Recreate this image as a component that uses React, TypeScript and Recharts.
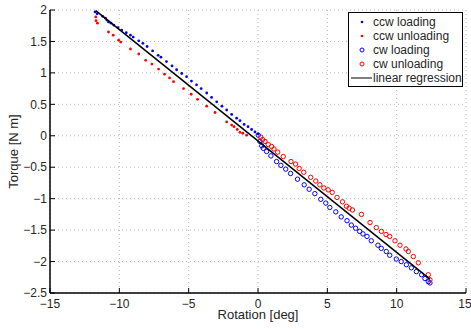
import React from "react";
import {
  ScatterChart,
  Scatter,
  XAxis,
  YAxis,
  CartesianGrid,
  Label,
} from "recharts";

// values: [rotation deg, torque N m]
const ccwLoading = [
  [-11.75, 1.97], [-11.6, 1.94], [-11.2, 1.9], [-11.0, 1.87], [-10.9, 1.84],
  [-10.78, 1.81], [-10.6, 1.79], [-10.4, 1.76], [-10.1, 1.72], [-9.83, 1.68],
  [-9.5, 1.64], [-9.2, 1.6], [-9.0, 1.57], [-8.6, 1.51], [-8.3, 1.47],
  [-8.0, 1.42], [-7.6, 1.35], [-7.2, 1.28], [-7.0, 1.25], [-6.6, 1.18],
  [-6.2, 1.11], [-5.87, 1.05], [-5.5, 0.99], [-5.15, 0.94], [-4.8, 0.87],
  [-4.43, 0.81], [-4.1, 0.75], [-3.7, 0.68], [-3.35, 0.61], [-2.98, 0.54],
  [-2.6, 0.47], [-2.26, 0.41], [-1.9, 0.34], [-1.54, 0.28], [-1.3, 0.24],
  [-1.0, 0.18], [-0.72, 0.145], [-0.46, 0.1], [-0.22, 0.06], [0.0, 0.03],
];

const ccwUnloading = [
  [-11.7, 1.89], [-11.68, 1.83], [-11.58, 1.79], [-10.78, 1.65], [-10.44, 1.6],
  [-10.05, 1.52], [-9.9, 1.49], [-9.2, 1.38], [-8.6, 1.3], [-8.1, 1.2],
  [-7.65, 1.14], [-7.17, 1.06], [-6.74, 0.98], [-6.38, 0.92], [-6.09, 0.86],
  [-5.37, 0.75], [-4.82, 0.66], [-4.36, 0.58], [-3.7, 0.47], [-3.1, 0.37],
  [-2.26, 0.22], [-1.9, 0.17], [-1.73, 0.145], [-1.5, 0.1], [-1.3, 0.055],
  [-1.1, 0.04], [-0.82, 0.01],
];

const cwLoading = [
  [0.02, 0.01], [0.14, -0.09], [0.27, -0.16], [0.38, -0.2], [0.62, -0.25],
  [0.93, -0.32], [1.34, -0.41], [1.65, -0.47], [2.0, -0.53], [2.35, -0.6],
  [2.85, -0.69], [3.33, -0.78], [3.69, -0.85], [4.1, -0.92], [4.53, -1.01],
  [4.89, -1.07], [5.18, -1.14], [5.61, -1.21], [6.0, -1.29], [6.42, -1.35],
  [6.73, -1.42], [7.04, -1.47], [7.33, -1.52], [7.57, -1.56], [7.86, -1.6],
  [8.17, -1.67], [8.65, -1.74], [8.89, -1.79], [9.25, -1.84], [9.5, -1.9],
  [9.97, -1.96], [10.33, -2.0], [10.7, -2.05], [11.06, -2.1], [11.42, -2.16],
  [11.8, -2.21], [12.04, -2.27], [12.28, -2.32], [12.4, -2.34],
];

const cwUnloading = [
  [12.4, -2.29], [12.28, -2.21], [11.56, -2.02], [11.2, -1.92], [10.84, -1.84],
  [10.67, -1.8], [10.24, -1.74], [9.88, -1.67], [9.5, -1.6], [9.23, -1.57],
  [8.9, -1.52], [8.53, -1.46], [8.08, -1.38], [7.46, -1.25], [6.81, -1.18],
  [6.57, -1.15], [6.38, -1.12], [6.09, -1.05], [5.7, -0.98], [5.35, -0.9],
  [5.06, -0.86], [4.75, -0.83], [4.46, -0.78], [4.17, -0.72], [3.8, -0.66],
  [3.3, -0.58], [2.97, -0.52], [2.71, -0.45], [2.38, -0.41], [1.82, -0.33],
  [1.42, -0.26], [1.15, -0.21], [0.98, -0.17], [0.74, -0.14], [0.5, -0.09],
  [0.33, -0.06], [0.2, -0.02],
];

// end points of the fitted line
const regression = [
  [-11.7, 1.99],
  [12.4, -2.28],
];

const xTicks = [-15, -10, -5, 0, 5, 10, 15];
const yTicks = [-2.5, -2, -1.5, -1, -0.5, 0, 0.5, 1, 1.5, 2];

const toPoints = (arr: number[][]) => arr.map(([x, y]) => ({ x, y }));

const BLUE = "#0000ff";
const RED = "#ff0000";
const FONT = "'Liberation Sans', Arial, sans-serif";
const TEXT = "#262626";

const fmt = (v: number) => (v < 0 ? `\u2212${Math.abs(v)}` : `${v}`);

const dot = (color: string) => (props: any) =>
  <circle cx={props.cx} cy={props.cy} r={1.4} fill={color} />;
const ring = (color: string) => (props: any) =>
  <circle cx={props.cx} cy={props.cy} r={2.2} fill="none" stroke={color} strokeWidth={1} />;

const legendRows = [
  { label: "ccw loading", kind: "dot", color: BLUE },
  { label: "ccw unloading", kind: "dot", color: RED },
  { label: "cw loading", kind: "ring", color: BLUE },
  { label: "cw unloading", kind: "ring", color: RED },
  { label: "linear regression", kind: "line", color: "#000" },
];

// drawn over the chart, top right like matlab's legend
function LegendBox() {
  return (
    <div
      style={{
        position: "absolute",
        left: 348,
        top: 12,
        border: "1.5px solid #000",
        background: "#fff",
        width: 113,
        padding: "2px 0 1px 0",
        fontFamily: FONT,
        fontSize: 12,
        lineHeight: "14px",
        color: TEXT,
      }}
    >
      {legendRows.map((r) => (
        <div key={r.label} style={{ display: "flex", alignItems: "center", height: 14 }}>
          <svg width={24} height={14} style={{ flex: "none" }}>
            {r.kind === "dot" && <circle cx={13} cy={7} r={1.3} fill={r.color} />}
            {r.kind === "ring" && (
              <circle cx={13} cy={7} r={2} fill="none" stroke={r.color} strokeWidth={1} />
            )}
            {r.kind === "line" && <line x1={2} x2={23} y1={7} y2={7} stroke="#000" strokeWidth={1} />}
          </svg>
          <span style={{ whiteSpace: "nowrap" }}>{r.label}</span>
        </div>
      ))}
    </div>
  );
}

export default function App() {
  const tickStyle = { fontFamily: FONT, fontSize: 12, fill: TEXT };
  return (
    <div style={{ position: "fixed", left: 0, top: 0, width: 471, height: 329, background: "#fff" }}>
      <ScatterChart width={471} height={329} margin={{ top: 10, right: 5, bottom: 0, left: 0 }}>
        <CartesianGrid stroke="#b8b8b8" strokeDasharray="1 3" />
        <XAxis
          type="number"
          dataKey="x"
          domain={[-15, 15]}
          ticks={xTicks}
          height={36}
          tickFormatter={fmt}
          tick={tickStyle}
          tickSize={-5}
          tickMargin={11}
          stroke="#000"
          axisLine={{ stroke: "#000", strokeWidth: 1.5 }}
        >
          <Label
            value="Rotation [deg]"
            position="insideBottom"
            offset={10}
            style={{ fontFamily: FONT, fontSize: 13, fill: TEXT }}
          />
        </XAxis>
        <XAxis
          xAxisId="top"
          orientation="top"
          type="number"
          dataKey="x"
          domain={[-15, 15]}
          ticks={xTicks}
          height={0}
          tickFormatter={() => ""}
          tickSize={-5}
          stroke="#000"
          axisLine={{ stroke: "#000", strokeWidth: 1.5 }}
        />
        <YAxis
          type="number"
          dataKey="y"
          domain={[-2.5, 2]}
          ticks={yTicks}
          width={50}
          tickFormatter={fmt}
          tick={tickStyle}
          tickSize={-5}
          tickMargin={8}
          stroke="#000"
          axisLine={{ stroke: "#000", strokeWidth: 1.5 }}
        >
          <Label
            value="Torque [N m]"
            position="insideLeft"
            angle={-90}
            offset={13}
            style={{ fontFamily: FONT, fontSize: 13, fill: TEXT, textAnchor: "middle" }}
          />
        </YAxis>
        <YAxis
          yAxisId="right"
          orientation="right"
          type="number"
          dataKey="y"
          domain={[-2.5, 2]}
          ticks={yTicks}
          width={0}
          tickFormatter={() => ""}
          tickSize={-5}
          stroke="#000"
          axisLine={{ stroke: "#000", strokeWidth: 1.5 }}
        />
        <Scatter name="ccw loading" data={toPoints(ccwLoading)} shape={dot(BLUE)} isAnimationActive={false} />
        <Scatter name="ccw unloading" data={toPoints(ccwUnloading)} shape={dot(RED)} isAnimationActive={false} />
        <Scatter name="cw loading" data={toPoints(cwLoading)} shape={ring(BLUE)} isAnimationActive={false} />
        <Scatter name="cw unloading" data={toPoints(cwUnloading)} shape={ring(RED)} isAnimationActive={false} />
        <Scatter
          name="linear regression"
          data={toPoints(regression)}
          line={{ stroke: "#000", strokeWidth: 1.5 }}
          shape={() => <g />}
          isAnimationActive={false}
        />
      </ScatterChart>
      <LegendBox />
    </div>
  );
}
